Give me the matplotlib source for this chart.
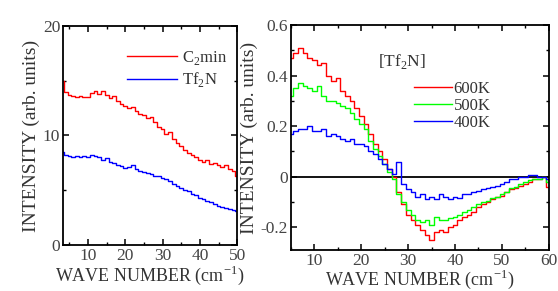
import matplotlib.pyplot as plt
import numpy as np
from matplotlib.ticker import MultipleLocator

plt.rcParams.update({
    "font.family": "Liberation Serif",
    "font.size": 12.5,
    "xtick.direction": "in",
    "ytick.direction": "in",
    "xtick.top": True,
    "ytick.right": True,
    "axes.linewidth": 1.3,
    "text.color": "#333333",
    "xtick.labelcolor": "#444444",
    "ytick.labelcolor": "#444444",
    "axes.labelcolor": "#333333",
    "mathtext.fontset": "custom",
    "mathtext.rm": "Liberation Serif",
})

# ---- left panel: C2min and Tf2N ----
wn_left = list(range(3, 51))
c2min = [15.0, 14.0, 13.7, 13.6, 13.5, 13.6, 13.5, 13.5, 13.9, 14.1,
         13.8, 14.1, 13.7, 13.4, 13.6, 13.1, 12.9, 12.7, 12.5, 12.6,
         12.2, 12.0, 11.9, 11.6, 11.7, 11.2, 10.8, 10.6, 10.1, 10.3,
         9.7, 9.3, 9.0, 8.7, 8.4, 8.2, 8.0, 7.8, 7.6, 7.8,
         7.4, 7.5, 7.3, 7.1, 7.3, 6.9, 6.8, 6.3]
tf2n = [8.5, 8.2, 8.1, 8.0, 8.1, 8.0, 8.1, 8.0, 8.2, 8.1,
        8.0, 7.8, 7.9, 7.6, 7.5, 7.3, 7.2, 7.0, 7.1, 7.3,
        6.9, 6.8, 6.7, 6.6, 6.5, 6.3, 6.3, 6.1, 6.0, 5.8,
        5.6, 5.4, 5.2, 5.0, 4.9, 4.7, 4.6, 4.3, 4.2, 4.0,
        3.9, 3.7, 3.6, 3.5, 3.4, 3.3, 3.2, 3.1]

# ---- right panel: [Tf2N] difference spectra ----
wn_right = list(range(5, 61))
t600 = [0.47, 0.49, 0.51, 0.49, 0.47, 0.46, 0.44, 0.45, 0.40, 0.38,
        0.39, 0.34, 0.32, 0.30, 0.27, 0.24, 0.21, 0.17, 0.13, 0.10,
        0.07, 0.03, 0.00, -0.06, -0.11, -0.15, -0.17, -0.19, -0.21, -0.23,
        -0.25, -0.22, -0.21, -0.22, -0.20, -0.19, -0.17, -0.16, -0.15, -0.14,
        -0.12, -0.11, -0.10, -0.09, -0.08, -0.075, -0.06, -0.05, -0.045, -0.035,
        -0.03, -0.02, -0.01, -0.01, 0.0, -0.04]
t500 = [0.32, 0.35, 0.37, 0.36, 0.35, 0.34, 0.36, 0.32, 0.30, 0.30,
        0.29, 0.28, 0.27, 0.25, 0.23, 0.21, 0.19, 0.14, 0.11, 0.08,
        0.05, 0.02, -0.01, -0.07, -0.10, -0.13, -0.15, -0.17, -0.18, -0.17,
        -0.19, -0.16, -0.17, -0.17, -0.165, -0.16, -0.15, -0.14, -0.13, -0.12,
        -0.11, -0.10, -0.095, -0.085, -0.08, -0.07, -0.06, -0.045, -0.04, -0.03,
        -0.02, -0.015, -0.01, -0.01, 0.0, -0.02]
t400 = [0.17, 0.18, 0.19, 0.19, 0.20, 0.18, 0.18, 0.19, 0.16, 0.17,
        0.16, 0.15, 0.14, 0.15, 0.13, 0.13, 0.12, 0.10, 0.09, 0.07,
        0.05, 0.03, 0.01, 0.06, -0.03, -0.05, -0.06, -0.08, -0.07, -0.09,
        -0.08, -0.09, -0.07, -0.08, -0.09, -0.08, -0.085, -0.07, -0.07, -0.06,
        -0.055, -0.05, -0.045, -0.04, -0.035, -0.03, -0.02, -0.01, -0.01, 0.0,
        0.0, 0.005, 0.005, 0.0, 0.0, -0.01]

fig = plt.figure(figsize=(5.58, 2.91), dpi=100)
ax1 = fig.add_axes([0.113, 0.158, 0.312, 0.753])
ax2 = fig.add_axes([0.5215, 0.141, 0.462, 0.773])

ax1.plot(wn_left, c2min, color="#ff0000", lw=1.0, drawstyle="steps-mid", label="C$_2$min")
ax1.plot(wn_left, tf2n, color="#0000ff", lw=1.0, drawstyle="steps-mid", label="Tf$_2$N")
ax1.set_xlim(3.3, 50)
ax1.set_ylim(0, 20)
ax1.xaxis.set_major_locator(MultipleLocator(10))
ax1.xaxis.set_minor_locator(MultipleLocator(5))
ax1.yaxis.set_major_locator(MultipleLocator(10))
ax1.yaxis.set_minor_locator(MultipleLocator(5))
ax1.set_xlabel("WAVE NUMBER (cm$^{-1}$)", labelpad=0, fontsize=13)
ax1.set_ylabel("INTENSITY (arb. units)", labelpad=2, fontsize=14)
ax1.legend(loc="upper right", bbox_to_anchor=(1.0, 0.94), frameon=False,
           handlelength=3.0, handletextpad=0.3, labelspacing=0.2,
           borderaxespad=0.2, fontsize=12)

ax2.plot(wn_right, t600, color="#ff0000", lw=1.0, drawstyle="steps-mid", label="600K")
ax2.plot(wn_right, t500, color="#00ff00", lw=1.0, drawstyle="steps-mid", label="500K")
ax2.plot(wn_right, t400, color="#0000ff", lw=1.0, drawstyle="steps-mid", label="400K")
ax2.axhline(0, color="black", lw=1.3, zorder=1)
ax2.set_xlim(5, 60)
ax2.set_ylim(-0.29, 0.6)
ax2.xaxis.set_major_locator(MultipleLocator(10))
ax2.xaxis.set_minor_locator(MultipleLocator(5))
ax2.yaxis.set_major_locator(MultipleLocator(0.2))
ax2.yaxis.set_minor_locator(MultipleLocator(0.1))
ax2.yaxis.set_major_formatter(plt.FuncFormatter(lambda v, p: "0" if abs(v) < 1e-9 else f"{v:.1f}"))
ax2.set_xlabel("WAVE NUMBER (cm$^{-1}$)", labelpad=-1, fontsize=13)
ax2.set_ylabel("INTENSITY (arb. units)", labelpad=2, fontsize=14)
ax2.text(0.43, 0.84, "[Tf$_2$N]", transform=ax2.transAxes, ha="center", va="center")
ax2.legend(loc="upper left", bbox_to_anchor=(0.45, 0.78), frameon=False,
           handlelength=2.3, handletextpad=0.1, labelspacing=0.05,
           borderaxespad=0.0, fontsize=12)

for ax in (ax1, ax2):
    ax.tick_params(which="major", length=4, width=1.1, pad=2)
    ax.tick_params(which="minor", length=2.5, width=1.0)

fig.savefig("out.png", dpi=100)
